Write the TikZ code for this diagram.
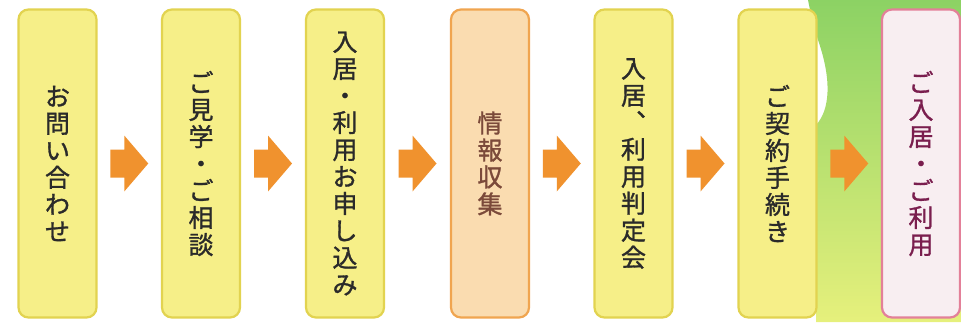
\documentclass[tikz,border=0pt]{standalone}
\usepackage{fontspec}
\newfontfamily\cjk[FakeBold=1.2]{Noto Sans CJK JP}
\usetikzlibrary{calc}
\definecolor{boxfill}{HTML}{F6EF88}
\definecolor{boxedge}{HTML}{E2D350}
\definecolor{peachfill}{HTML}{FADCB0}
\definecolor{peachedge}{HTML}{F0A550}
\definecolor{pinkfill}{HTML}{F8EEF1}
\definecolor{pinkedge}{HTML}{E38099}
\definecolor{textdark}{HTML}{2A2A2A}
\definecolor{textbrown}{HTML}{7B4A3A}
\definecolor{textplum}{HTML}{7A1E4E}
\definecolor{arrowc}{HTML}{F0922E}
\definecolor{gtop}{HTML}{8CD264}
\definecolor{gmid}{HTML}{55B24E}
\definecolor{gbot}{HTML}{E6F07C}
\tikzset{
  stepbox/.style={rounded corners=10pt, minimum width=78pt, minimum height=308pt,
    line width=2.2pt, align=center, inner sep=0pt,
    font=\cjk\fontsize{25}{27}\selectfont},
  yellowbox/.style={stepbox, fill=boxfill, draw=boxedge, text=textdark},
  peachbox/.style={stepbox, fill=peachfill, draw=peachedge, text=textbrown},
  pinkbox/.style={stepbox, fill=pinkfill, draw=pinkedge, text=textplum},
}
\newcommand{\blockarrow}[2]{%
  \fill[arrowc] ($(#1.east)!0.5!(#2.west)$) ++(-19,-14) -- ++(14,0) -- ++(0,-14)
    -- ++(24,28) -- ++(-24,28) -- ++(0,-14) -- ++(-14,0) -- cycle;}
\begin{document}
\begin{tikzpicture}[x=1pt,y=-1pt]
\useasboundingbox (0,0) rectangle (961,322);
\fill[white] (0,0) rectangle (961,322);
% green background at right
\shade[top color=gtop, middle color=gmid, bottom color=gbot]
  (808,0) -- (961,0) -- (961,322) -- (816,322) -- (816,125)
  .. controls (830,110) and (832,80) .. (818,40) .. controls (812,20) .. (808,0) -- cycle;
% boxes
\node[yellowbox] (b1) at (57.5,163.5) {お\\問\\い\\合\\わ\\せ};
\node[yellowbox] (b2) at (201,163.5) {ご\\見\\学\\・\\ご\\相\\談};
\node[yellowbox] (b3) at (345,163.5) {入\\居\\・\\利\\用\\お\\申\\し\\込\\み};
\node[peachbox]  (b4) at (490,163.5) {情\\報\\収\\集};
\node[yellowbox] (b5) at (633.5,163.5) {入\\居\\︑\\利\\用\\判\\定\\会};
\node[yellowbox] (b6) at (777.5,163.5) {ご\\契\\約\\手\\続\\き};
\node[pinkbox]   (b7) at (921,163.5) {ご\\入\\居\\・\\ご\\利\\用};
% arrows
\blockarrow{b1}{b2}
\blockarrow{b2}{b3}
\blockarrow{b3}{b4}
\blockarrow{b4}{b5}
\blockarrow{b5}{b6}
\blockarrow{b6}{b7}
\end{tikzpicture}
\end{document}
